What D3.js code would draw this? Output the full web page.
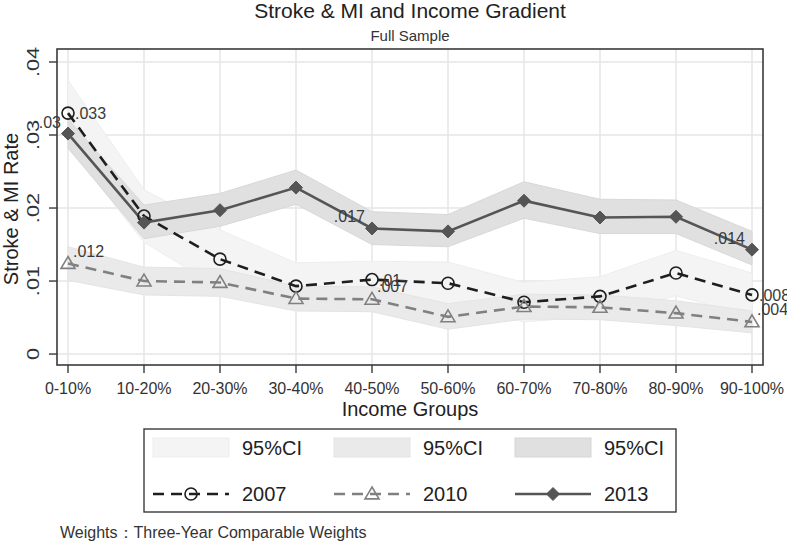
<!DOCTYPE html>
<html>
<head>
<meta charset="utf-8">
<script src="https://cdn.jsdelivr.net/npm/d3@7"></script>
<style>
  html, body { margin: 0; padding: 0; background: #fff; }
  svg { display: block; font-family: "Liberation Sans", Arial, sans-serif; }
</style>
</head>
<body>
<svg id="chart" width="787" height="544"></svg>
<script>
// ---------------- data ----------------
const categories = ["0-10%", "10-20%", "20-30%", "30-40%", "40-50%", "50-60%", "60-70%", "70-80%", "80-90%", "90-100%"];

const rate2007 = [0.0330, 0.0189, 0.0130, 0.0093, 0.0102, 0.0097, 0.0071, 0.0079, 0.0111, 0.0081];
const rate2010 = [0.0124, 0.0100, 0.0098, 0.0076, 0.0075, 0.0051, 0.0065, 0.0064, 0.0056, 0.0044];
const rate2013 = [0.0302, 0.0180, 0.0197, 0.0228, 0.0172, 0.0168, 0.0210, 0.0187, 0.0188, 0.0143];

const ciHi2007 = [0.0375, 0.0225, 0.0170, 0.0125, 0.0127, 0.0126, 0.0098, 0.0106, 0.0142, 0.0111];
const ciLo2007 = [0.0285, 0.0153, 0.0090, 0.0061, 0.0077, 0.0068, 0.0044, 0.0052, 0.0080, 0.0051];
const ciHi2010 = [0.0147, 0.0119, 0.0117, 0.0093, 0.0092, 0.0069, 0.0082, 0.0081, 0.0073, 0.0059];
const ciLo2010 = [0.0101, 0.0081, 0.0079, 0.0059, 0.0058, 0.0034, 0.0048, 0.0047, 0.0039, 0.0029];
const ciHi2013 = [0.0322, 0.0204, 0.0220, 0.0252, 0.0195, 0.0191, 0.0236, 0.0212, 0.0211, 0.0168];
const ciLo2013 = [0.0282, 0.0158, 0.0175, 0.0205, 0.0150, 0.0147, 0.0186, 0.0165, 0.0165, 0.0122];

// value labels shown (category index, text)
const labels2007 = [[0, ".033"], [4, ".01"], [9, ".008"]];
const labels2010 = [[0, ".012"], [4, ".007"], [9, ".004"]];
const labels2013 = [[0, ".03"], [4, ".017"], [9, ".014"]];

const yTicks = [0, 0.01, 0.02, 0.03, 0.04];
const yTickLabels = ["0", ".01", ".02", ".03", ".04"];

const years = ["2007", "2010", "2013"];
const ciLabel = "95%CI";

// ---------------- layout ----------------
const svg = d3.select("#chart");
const plot = { left: 57, right: 763, top: 49, bottom: 365 };

const x = d3.scalePoint().domain(categories).range([68, 752]);
const y = d3.scaleLinear().domain([-0.0015, 0.04178]).range([plot.bottom, plot.top]);

svg.append("rect").attr("width", 787).attr("height", 544).attr("fill", "#fff");

// gridlines
const grid = svg.append("g");
grid.selectAll("line.h").data(yTicks).join("line")
  .attr("x1", plot.left).attr("x2", plot.right)
  .attr("y1", d => y(d)).attr("y2", d => y(d))
  .attr("stroke", "#e6e6e6").attr("stroke-width", 1.5);
grid.selectAll("line.v").data(categories).join("line")
  .attr("x1", d => x(d)).attr("x2", d => x(d))
  .attr("y1", plot.top).attr("y2", plot.bottom)
  .attr("stroke", "#e6e6e6").attr("stroke-width", 1.5);

// bands
function band(lo, hi, fill, stroke) {
  const area = d3.area()
    .x((d, i) => x(categories[i]))
    .y0((d, i) => y(lo[i]))
    .y1((d, i) => y(hi[i]));
  svg.append("path").datum(lo).attr("d", area)
    .attr("fill", fill).attr("stroke", stroke).attr("stroke-width", 1);
}
band(ciLo2007, ciHi2007, "#f4f4f4", "#eeeeee");
band(ciLo2010, ciHi2010, "#eaeaea", "#e4e4e4");
band(ciLo2013, ciHi2013, "#e0e0e0", "#d8d8d8");

// lines
const series = [
  { vals: rate2007, color: "#1e1e1e", dash: "11,7", marker: "circle", labels: labels2007 },
  { vals: rate2010, color: "#808080", dash: "11,7", marker: "triangle", labels: labels2010 },
  { vals: rate2013, color: "#555555", dash: null, marker: "diamond", labels: labels2013 }
];

const line = d3.line().x((d, i) => x(categories[i])).y(d => y(d));

function drawMarker(g, type, cx, cy, color) {
  if (type === "circle") {
    g.append("circle").attr("cx", cx).attr("cy", cy).attr("r", 6)
      .attr("fill", "none").attr("stroke", color).attr("stroke-width", 1.6);
  } else if (type === "triangle") {
    const s = 7;
    g.append("path")
      .attr("d", `M${cx},${cy - s} L${cx + s},${cy + s * 0.7} L${cx - s},${cy + s * 0.7} Z`)
      .attr("fill", "none").attr("stroke", color).attr("stroke-width", 1.6);
  } else {
    const s = 6.5;
    g.append("path")
      .attr("d", `M${cx},${cy - s} L${cx + s},${cy} L${cx},${cy + s} L${cx - s},${cy} Z`)
      .attr("fill", color).attr("stroke", color).attr("stroke-width", 1);
  }
}

series.forEach(s => {
  const p = svg.append("path").datum(s.vals).attr("d", line)
    .attr("fill", "none").attr("stroke", s.color).attr("stroke-width", 2.6);
  if (s.dash) p.attr("stroke-dasharray", s.dash);
});
series.forEach(s => {
  const g = svg.append("g");
  s.vals.forEach((v, i) => drawMarker(g, s.marker, x(categories[i]), y(v), s.color));
});

// value labels (positions by clock direction, Stata style)
const labelStyle = (sel) => sel.attr("font-size", 16).attr("fill", "#3a3a3a");
function addLabel(i, v, text, pos) {
  const px = x(categories[i]), py = y(v);
  const t = svg.append("text").text(text).call(labelStyle);
  if (pos === 3) t.attr("x", px + 7).attr("y", py + 6);
  else if (pos === 1) t.attr("x", px + 5).attr("y", py - 7);
  else if (pos === 11) t.attr("x", px - 7).attr("y", py - 6).attr("text-anchor", "end");
}
const posFor = { "2007": [3, 3, 3], "2010": [1, 1, 1], "2013": [11, 11, 11] };
[["2007", rate2007, labels2007], ["2010", rate2010, labels2010], ["2013", rate2013, labels2013]]
  .forEach(([yr, vals, labs]) => {
    labs.forEach(([i, txt], k) => addLabel(i, vals[i], txt, posFor[yr][k]));
  });

// frame
svg.append("rect").attr("x", plot.left).attr("y", plot.top)
  .attr("width", plot.right - plot.left).attr("height", plot.bottom - plot.top)
  .attr("fill", "none").attr("stroke", "#3a3a3a").attr("stroke-width", 1.6);

// y axis ticks + labels
const yAxis = svg.append("g");
yAxis.selectAll("line").data(yTicks).join("line")
  .attr("x1", plot.left - 8).attr("x2", plot.left)
  .attr("y1", d => y(d)).attr("y2", d => y(d))
  .attr("stroke", "#3a3a3a").attr("stroke-width", 1.4);
yAxis.selectAll("text").data(yTicks).join("text")
  .attr("transform", d => `translate(39,${y(d)}) rotate(-90) scale(1.28,1)`)
  .attr("text-anchor", "middle")
  .attr("font-size", 17).attr("fill", "#333")
  .text((d, i) => yTickLabels[i]);

// x axis ticks + labels
const xAxis = svg.append("g");
xAxis.selectAll("line").data(categories).join("line")
  .attr("x1", d => x(d)).attr("x2", d => x(d))
  .attr("y1", plot.bottom).attr("y2", plot.bottom + 8)
  .attr("stroke", "#3a3a3a").attr("stroke-width", 1.4);
xAxis.selectAll("text").data(categories).join("text")
  .attr("x", d => x(d)).attr("y", 394)
  .attr("text-anchor", "middle").attr("font-size", 16).attr("fill", "#333")
  .text(d => d);

// titles
svg.append("text").attr("x", 410).attr("y", 18).attr("text-anchor", "middle")
  .attr("font-size", 21).attr("fill", "#222").text("Stroke & MI and Income Gradient");
svg.append("text").attr("x", 410).attr("y", 41).attr("text-anchor", "middle")
  .attr("font-size", 15).attr("fill", "#333").text("Full Sample");
svg.append("text").attr("x", 410).attr("y", 416).attr("text-anchor", "middle")
  .attr("font-size", 20).attr("fill", "#222").text("Income Groups");
svg.append("text").attr("transform", `translate(18,209) rotate(-90)`).attr("text-anchor", "middle")
  .attr("font-size", 20).attr("fill", "#222").text("Stroke & MI Rate");

// legend
const lg = svg.append("g");
lg.append("rect").attr("x", 144).attr("y", 429).attr("width", 532).attr("height", 83)
  .attr("fill", "#fff").attr("stroke", "#3a3a3a").attr("stroke-width", 1.4);
const colX = [153, 334, 515];
const swFill = ["#f4f4f4", "#eaeaea", "#e0e0e0"];
const swStroke = ["#eeeeee", "#e4e4e4", "#d6d6d6"];
colX.forEach((cx, k) => {
  lg.append("rect").attr("x", cx).attr("y", 438).attr("width", 76).attr("height", 19)
    .attr("fill", swFill[k]).attr("stroke", swStroke[k]).attr("stroke-width", 1);
  lg.append("text").attr("x", cx + 89).attr("y", 455).attr("font-size", 20).attr("fill", "#222").text(ciLabel);
  const s = series[k];
  const ln = lg.append("line").attr("x1", cx).attr("x2", cx + 76).attr("y1", 494).attr("y2", 494)
    .attr("stroke", s.color).attr("stroke-width", 2.6);
  if (s.dash) ln.attr("stroke-dasharray", s.dash).attr("stroke-dashoffset", 0);
  drawMarker(lg, s.marker, cx + 38, 494, s.color);
  lg.append("text").attr("x", cx + 89).attr("y", 501).attr("font-size", 20).attr("fill", "#222").text(years[k]);
});

// note
svg.append("text").attr("x", 60).attr("y", 538).attr("font-size", 16).attr("fill", "#333")
  .text("Weights：Three-Year Comparable Weights");
</script>
</body>
</html>
